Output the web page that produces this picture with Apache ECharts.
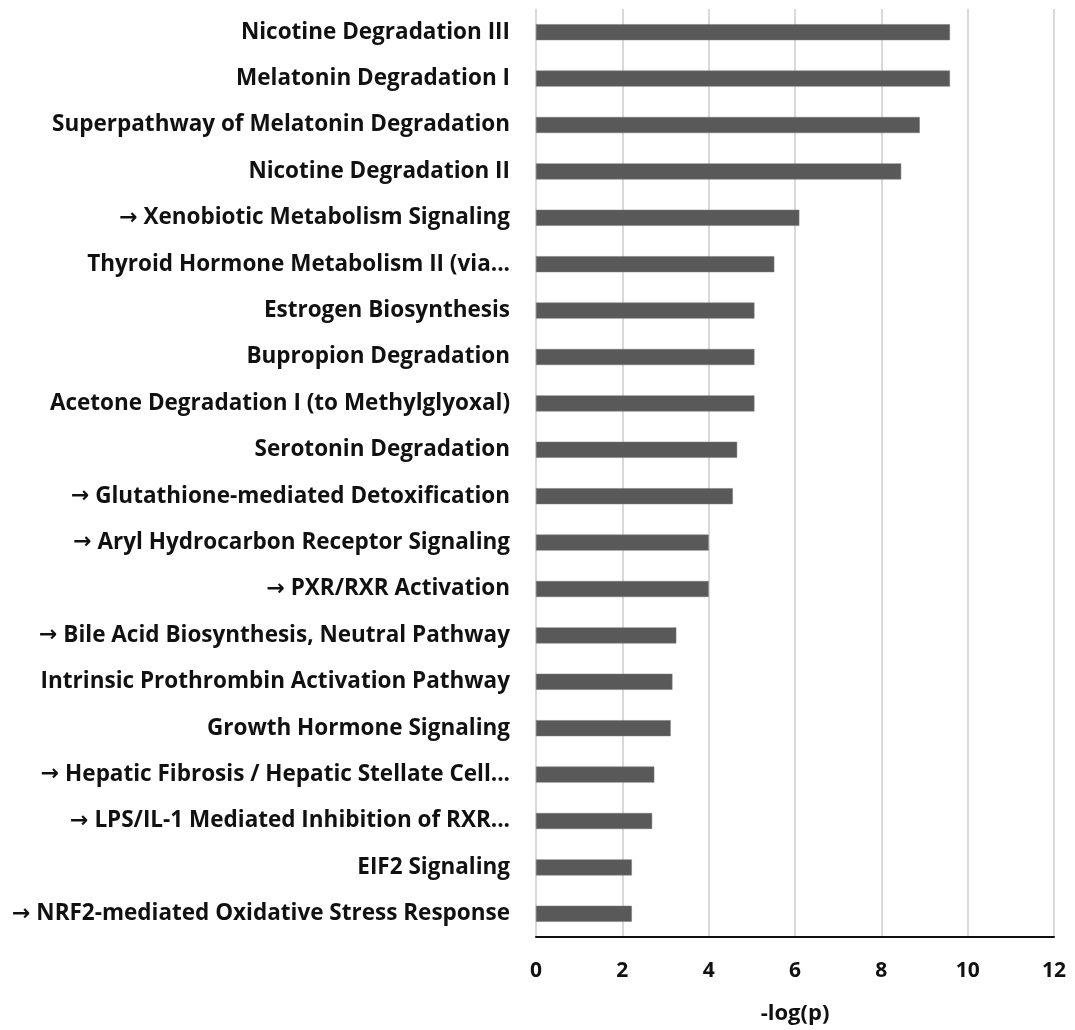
<!DOCTYPE html>
<html><head><meta charset="utf-8">
<script src="https://cdn.jsdelivr.net/npm/echarts@6/dist/echarts.min.js"></script>
<style>html,body{margin:0;padding:0;background:#fff}#c{width:1075px;height:1030px}</style>
</head><body><div id="c"></div>
<script>
const categories = [
  "Nicotine Degradation III",
  "Melatonin Degradation I",
  "Superpathway of Melatonin Degradation",
  "Nicotine Degradation II",
  "→ Xenobiotic Metabolism Signaling",
  "Thyroid Hormone Metabolism II (via...",
  "Estrogen Biosynthesis",
  "Bupropion Degradation",
  "Acetone Degradation I (to Methylglyoxal)",
  "Serotonin Degradation",
  "→ Glutathione-mediated Detoxification",
  "→ Aryl Hydrocarbon Receptor Signaling",
  "→ PXR/RXR Activation",
  "→ Bile Acid Biosynthesis, Neutral Pathway",
  "Intrinsic Prothrombin Activation Pathway",
  "Growth Hormone Signaling",
  "→ Hepatic Fibrosis / Hepatic Stellate Cell...",
  "→ LPS/IL-1 Mediated Inhibition of RXR...",
  "EIF2 Signaling",
  "→ NRF2-mediated Oxidative Stress Response"
];
const values = [9.59, 9.59, 8.89, 8.46, 6.10, 5.52, 5.06, 5.06, 5.06, 4.66,
                4.56, 4.00, 4.00, 3.25, 3.16, 3.12, 2.74, 2.69, 2.22, 2.22];
const xTicks = [0, 2, 4, 6, 8, 10, 12];
const axisName = "-log(p)";

const chart = echarts.init(document.getElementById('c'));
const font = "'Open Sans', sans-serif";
chart.setOption({
  animation: false,
  grid: {left: 536, right: 21, top: 9, bottom: 92},
  xAxis: {
    type: 'value', min: xTicks[0], max: xTicks[xTicks.length-1], interval: 2,
    name: axisName, nameLocation: 'middle', nameGap: 66,
    nameTextStyle: {fontFamily: font, fontWeight: 'bold', fontSize: 22, color: '#111'},
    axisLine: {show: true, lineStyle: {color: '#111', width: 2}},
    axisTick: {show: false},
    axisLabel: {fontFamily: font, fontWeight: 'bold', fontSize: 21, color: '#111', margin: 24},
    splitLine: {show: true, lineStyle: {color: '#d9d9d9', width: 2}}
  },
  yAxis: {
    type: 'category', data: categories, inverse: true,
    axisLine: {show: false}, axisTick: {show: false},
    axisLabel: {
      fontFamily: font, fontWeight: 'bold', fontSize: 22.5, color: '#111', margin: 26,
      formatter: function (v) {
        if (v.charAt(0) === '→') return '{a|→}{t|' + v.slice(1) + '}';
        return '{t|' + v + '}';
      },
      rich: {
        a: {fontFamily: "'DejaVu Sans', sans-serif", fontWeight: 'bold', fontSize: 22, color: '#111'},
        t: {fontFamily: font, fontWeight: 'bold', fontSize: 22.5, color: '#111'}
      }
    }
  },
  series: [{
    type: 'bar', data: values, barWidth: 16,
    itemStyle: {color: '#595959', borderColor: '#777', borderWidth: 0.5}
  }]
});
</script></body></html>
